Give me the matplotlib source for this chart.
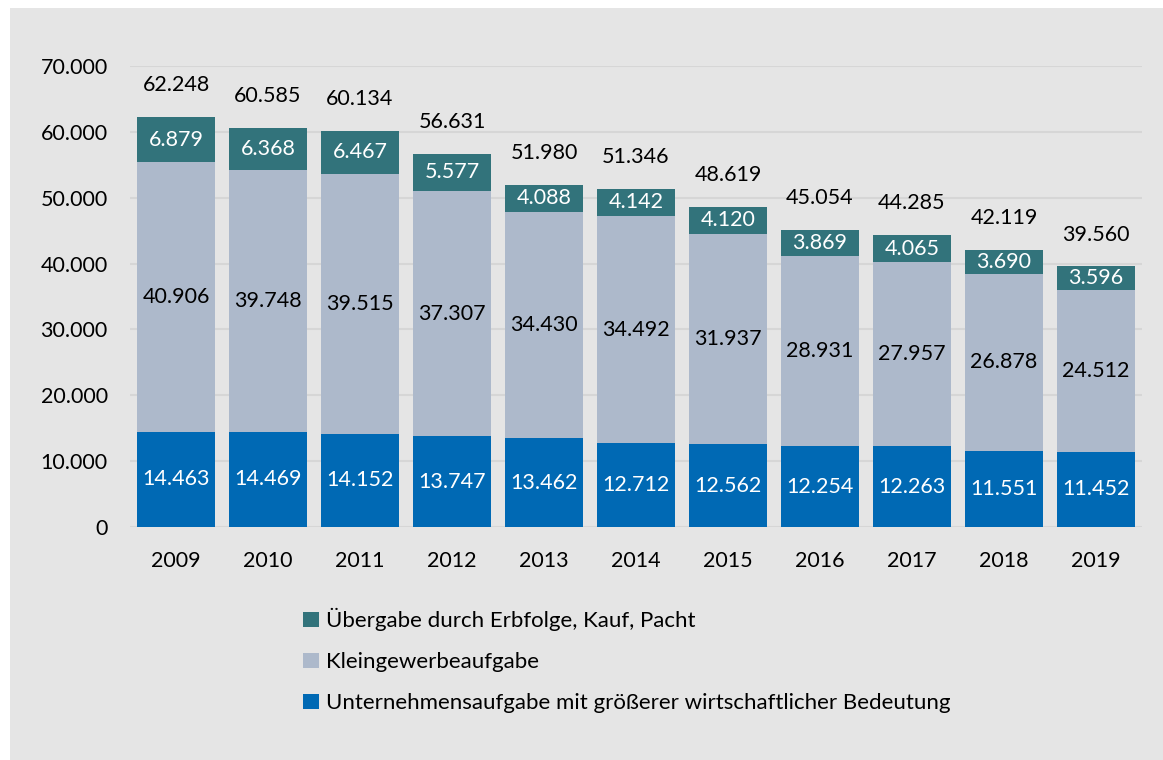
import matplotlib.pyplot as plt
import matplotlib.patches as mpatches
import numpy as np

plt.rcParams['font.family'] = ['Lato', 'DejaVu Sans']

years = ['2009', '2010', '2011', '2012', '2013', '2014', '2015', '2016', '2017', '2018', '2019']
gross = [14463, 14469, 14152, 13747, 13462, 12712, 12562, 12254, 12263, 11551, 11452]
klein = [40906, 39748, 39515, 37307, 34430, 34492, 31937, 28931, 27957, 26878, 24512]
uebergabe = [6879, 6368, 6467, 5577, 4088, 4142, 4120, 3869, 4065, 3690, 3596]
totals = [62248, 60585, 60134, 56631, 51980, 51346, 48619, 45054, 44285, 42119, 39560]

lbl_gross = 'Unternehmensaufgabe mit größerer wirtschaftlicher Bedeutung'
lbl_klein = 'Kleingewerbeaufgabe'
lbl_ueber = 'Übergabe durch Erbfolge, Kauf, Pacht'

c_blue = '#0069b4'
c_light = '#adb9cb'
c_teal = '#32737b'
bg = '#e5e5e5'
fs = 15.5


def de(v):
    return f'{v:,}'.replace(',', '.')


fig = plt.figure(figsize=(11.63, 7.6), dpi=100)
fig.patches.append(mpatches.Rectangle((10 / 1163, 0), 1, 752 / 760, transform=fig.transFigure,
                                      facecolor=bg, edgecolor='none', zorder=-10))

ax = fig.add_axes([130 / 1163, 1 - 527 / 760, 1012 / 1163, 461 / 760])
ax.patch.set_alpha(0)

x = np.arange(len(years))
w = 0.85
g = np.array(gross)
k = np.array(klein)
u = np.array(uebergabe)

b1 = ax.bar(x, g, w, color=c_blue, label=lbl_gross, zorder=3)
b2 = ax.bar(x, k, w, bottom=g, color=c_light, label=lbl_klein, zorder=3)
b3 = ax.bar(x, u, w, bottom=g + k, color=c_teal, label=lbl_ueber, zorder=3)

for i in range(len(years)):
    ax.text(x[i], g[i] / 2, de(gross[i]), ha='center', va='center', color='white', fontsize=fs, zorder=4)
    ax.text(x[i], g[i] + k[i] / 2, de(klein[i]), ha='center', va='center', color='black', fontsize=fs, zorder=4)
    ax.text(x[i], g[i] + k[i] + u[i] / 2, de(uebergabe[i]), ha='center', va='center', color='white', fontsize=fs, zorder=4)
    ax.annotate(de(totals[i]), (x[i], totals[i]), xytext=(0, 23), textcoords='offset points',
                ha='center', va='center', fontsize=fs, zorder=4)

ax.set_xlim(-0.5, 10.5)
ax.set_ylim(0, 70000)
ax.set_yticks(range(0, 70001, 10000))
ax.set_yticklabels([de(v) for v in range(0, 70001, 10000)], fontsize=fs)
ax.set_xticks(x)
ax.set_xticklabels(years, fontsize=fs)
ax.tick_params(axis='y', length=0, pad=16)
ax.tick_params(axis='x', length=0, pad=17)
ax.grid(axis='y', color='#d6d6d6', linewidth=1.5, zorder=0)
for s in ax.spines.values():
    s.set_visible(False)

fig.legend(handles=[b3, b2, b1], loc='upper left', bbox_to_anchor=(283 / 1163, 1 - 588 / 760),
           frameon=False, fontsize=16, handlelength=0.7, handleheight=0.7, handletextpad=0.35,
           labelspacing=0.95)

fig.savefig('out.png', dpi=100)
